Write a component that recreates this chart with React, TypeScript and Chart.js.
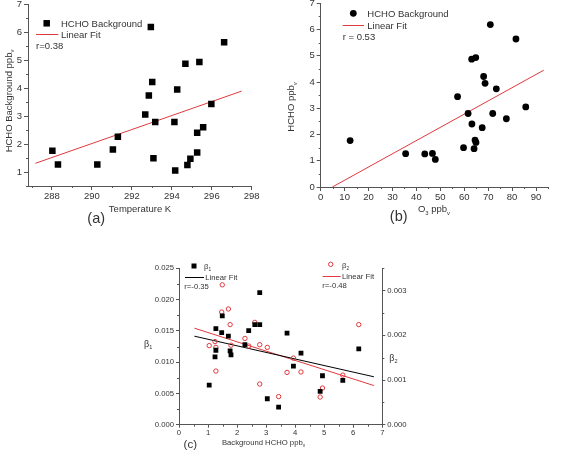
import { useEffect, useRef } from "react";
import { Chart, registerables } from "chart.js";

Chart.register(...registerables);

// (a) background HCHO against air temperature
const temperatureK = [288.02, 288.3, 290.27, 291.05, 291.3, 292.67, 292.85, 292.95, 293.02, 293.08, 293.17, 294.13, 294.17, 294.27, 294.68, 294.78, 294.93, 295.27, 295.27, 295.38, 295.57, 295.98, 296.62];
const hchoVsTemp = [1.76, 1.27, 1.27, 1.8, 2.26, 3.05, 3.73, 6.18, 4.21, 1.49, 2.79, 2.79, 1.05, 3.95, 4.87, 1.25, 1.47, 2.4, 1.7, 4.93, 2.6, 3.43, 5.63];
const tempFitX = [287.17, 297.5];
const tempFitY = [1.31, 3.89];
const tempTicks = [288, 290, 292, 294, 296, 298];
const hchoTicksA = [1, 2, 3, 4, 5, 6, 7];

// (b) background HCHO against ozone
const ozonePpb = [12.3, 35.5, 43.5, 46.7, 47.9, 57.2, 59.7, 61.6, 63.1, 63.2, 64.1, 64.5, 64.8, 64.9, 67.5, 68.1, 68.7, 70.9, 71.9, 73.4, 77.6, 81.6, 85.7];
const hchoVsO3 = [1.77, 1.27, 1.26, 1.28, 1.05, 3.44, 1.5, 2.8, 4.87, 2.4, 1.46, 1.79, 4.93, 1.7, 2.26, 4.21, 3.95, 6.19, 2.8, 3.74, 2.6, 5.64, 3.05];
const ozoneFitX = [4.87, 93.2];
const ozoneFitY = [0, 4.45];
const ozoneTicks = [0, 10, 20, 30, 40, 50, 60, 70, 80, 90];
const hchoTicksB = [0, 1, 2, 3, 4, 5, 6, 7];

// (c) beta coefficients against background HCHO
const hchoC = [1.04, 1.24, 1.27, 1.27, 1.47, 1.49, 1.7, 1.76, 1.79, 2.27, 2.4, 2.61, 2.78, 2.78, 3.04, 3.43, 3.72, 3.94, 4.2, 4.86, 4.94, 5.64, 6.19];
const beta1 = [0.00633, 0.01085, 0.0119, 0.01537, 0.01473, 0.0174, 0.01415, 0.0118, 0.01117, 0.0128, 0.01505, 0.016, 0.016, 0.0211, 0.00415, 0.00282, 0.01463, 0.00936, 0.01144, 0.00532, 0.00782, 0.00707, 0.01213];
const beta2 = [0.00177, 0.00186, 0.00173, 0.0012, 0.00252, 0.00313, 0.00259, 0.00224, 0.00178, 0.00193, 0.00176, 0.00229, 0.00179, 0.00091, 0.00173, 0.00063, 0.00117, 0.00149, 0.00118, 0.00062, 0.00082, 0.00111, 0.00224];
const betaFitX = [0.53, 6.71];
const beta1FitY = [0.01415, 0.00766];
const beta2FitY = [0.00216, 0.000876];
const hchoTicksC = [0, 1, 2, 3, 4, 5, 6, 7];
const beta1Ticks = [0, 0.005, 0.01, 0.015, 0.02, 0.025];
const beta2Ticks = [0, 0.001, 0.002, 0.003];

const FONT = '"Liberation Sans", Arial, Helvetica, sans-serif';
const AXIS_COLOR = "#555";
const TEXT_COLOR = "#333";
const FIT_RED = "#e0393e";
const PAGE_W = 568;
const PAGE_H = 453;
const MARGIN = 20;
const CANVAS_W = PAGE_W + 2 * MARGIN;
const CANVAS_H = PAGE_H + 2 * MARGIN;
const Y_AXIS_W = 30;
const X_AXIS_H = 20;

type Rect = { left: number; top: number; right: number; bottom: number };
type Part = [string, boolean?];

const pts = (xs: number[], ys: number[]) => xs.map((x, i) => ({ x, y: ys[i] }));

function paddingFor(area: Rect, rightAxis: boolean) {
  return {
    left: area.left + MARGIN - Y_AXIS_W,
    top: area.top + MARGIN,
    right: CANVAS_W - (area.right + MARGIN) - (rightAxis ? Y_AXIS_W : 0),
    bottom: CANVAS_H - (area.bottom + MARGIN) - X_AXIS_H,
  };
}

function axis(position: string, min: number, max: number, ticks: number[], fontSize: number, tickLen: number, decimals: number) {
  const horizontal = position === "bottom";
  return {
    type: "linear",
    position,
    min,
    max,
    bounds: "data",
    afterBuildTicks: (s: any) => {
      s.ticks = ticks.map((value) => ({ value }));
    },
    afterFit: (s: any) => {
      if (horizontal) s.height = X_AXIS_H;
      else s.width = Y_AXIS_W;
    },
    grid: { display: true, drawOnChartArea: false, drawTicks: true, tickLength: tickLen, tickColor: AXIS_COLOR, tickWidth: 1 },
    border: { display: true, color: AXIS_COLOR, width: 1 },
    ticks: {
      autoSkip: false,
      maxRotation: 0,
      padding: horizontal ? 1 : 2,
      color: TEXT_COLOR,
      font: { family: FONT, size: fontSize },
      callback: (v: number) => Number(v).toFixed(decimals),
    },
  };
}

// short ticks halfway between the labelled ones
function minorTicks(len: number) {
  return {
    id: "minorTicks",
    afterDraw(chart: any) {
      const ctx: CanvasRenderingContext2D = chart.ctx;
      ctx.save();
      ctx.strokeStyle = AXIS_COLOR;
      ctx.lineWidth = 1;
      ctx.beginPath();
      Object.values(chart.scales).forEach((s: any) => {
        const vals = s.ticks.map((t: any) => t.value);
        if (vals.length < 2) return;
        const step = vals[1] - vals[0];
        const eps = step * 1e-6;
        for (let k = -1; k < vals.length + 1; k++) {
          const v = vals[0] + step * (k + 0.5);
          if (v < s.min - eps || v > s.max + eps) continue;
          const p = Math.round(s.getPixelForValue(v)) + 0.5;
          if (s.position === "bottom") {
            ctx.moveTo(p, s.top);
            ctx.lineTo(p, s.top + len);
          } else if (s.position === "left") {
            ctx.moveTo(s.right - len, p);
            ctx.lineTo(s.right, p);
          } else {
            ctx.moveTo(s.left, p);
            ctx.lineTo(s.left + len, p);
          }
        }
      });
      ctx.stroke();
      ctx.restore();
    },
  };
}

function drawRich(
  ctx: CanvasRenderingContext2D,
  parts: Part[],
  x: number,
  y: number,
  size: number,
  align: "left" | "center" = "left",
  rotate = false,
  color = TEXT_COLOR
) {
  ctx.save();
  ctx.fillStyle = color;
  ctx.textBaseline = "alphabetic";
  ctx.textAlign = "left";
  const subSize = size * 0.62;
  let total = 0;
  const widths = parts.map(([t, sub]) => {
    ctx.font = `${sub ? subSize : size}px ${FONT}`;
    const w = ctx.measureText(t).width;
    total += w;
    return w;
  });
  ctx.translate(x, y);
  if (rotate) ctx.rotate(-Math.PI / 2);
  let cx = align === "center" ? -total / 2 : 0;
  const base = size * 0.36;
  parts.forEach(([t, sub], i) => {
    ctx.font = `${sub ? subSize : size}px ${FONT}`;
    ctx.fillText(t, cx, sub ? base + size * 0.28 : base);
    cx += widths[i];
  });
  ctx.restore();
}

function square(ctx: CanvasRenderingContext2D, x: number, y: number, side: number) {
  ctx.fillStyle = "#000";
  ctx.fillRect(x - side / 2, y - side / 2, side, side);
}

function dot(ctx: CanvasRenderingContext2D, x: number, y: number, r: number, fill: boolean, color: string) {
  ctx.beginPath();
  ctx.arc(x, y, r, 0, Math.PI * 2);
  if (fill) {
    ctx.fillStyle = color;
    ctx.fill();
  } else {
    ctx.strokeStyle = color;
    ctx.lineWidth = 1;
    ctx.stroke();
  }
}

function hline(ctx: CanvasRenderingContext2D, x1: number, x2: number, y: number, color: string) {
  ctx.beginPath();
  ctx.strokeStyle = color;
  ctx.lineWidth = 1;
  ctx.moveTo(x1, Math.round(y) + 0.5);
  ctx.lineTo(x2, Math.round(y) + 0.5);
  ctx.stroke();
}

function overlay(draw: (ctx: CanvasRenderingContext2D) => void) {
  return {
    id: "overlay",
    afterDraw(chart: any) {
      const ctx: CanvasRenderingContext2D = chart.ctx;
      ctx.save();
      ctx.translate(MARGIN, MARGIN);
      draw(ctx);
      ctx.restore();
    },
  };
}

const basePlugins = { legend: { display: false }, tooltip: { enabled: false } };

function configA(): any {
  return {
    type: "scatter",
    data: {
      datasets: [
        { data: pts(temperatureK, hchoVsTemp), pointStyle: "rect", pointRadius: 4.6, backgroundColor: "#000", borderWidth: 0 },
        { data: pts(tempFitX, tempFitY), showLine: true, pointRadius: 0, borderColor: FIT_RED, borderWidth: 1 },
      ],
    },
    options: {
      animation: false,
      responsive: false,
      events: [],
      layout: { padding: paddingFor({ left: 28, top: 4, right: 251.7, bottom: 186 }, false) },
      scales: {
        x: axis("bottom", 286.8, 298, tempTicks, 9.5, 4, 0),
        y: axis("left", 0.5, 7, hchoTicksA, 9.5, 4, 0),
      },
      plugins: basePlugins,
    },
    plugins: [
      minorTicks(2),
      overlay((ctx) => {
        square(ctx, 46.7, 23.3, 6.5);
        drawRich(ctx, [["HCHO Background"]], 61, 23.3, 9.5);
        hline(ctx, 36, 58.3, 34.3, FIT_RED);
        drawRich(ctx, [["Linear Fit"]], 61, 34.5, 9.5);
        drawRich(ctx, [["r=0.38"]], 36, 46, 9.5);
        drawRich(ctx, [["Temperature K"]], 140, 208.5, 9.5, "center");
        drawRich(ctx, [["HCHO Background ppb"], ["v", true]], 8.3, 101, 9.5, "center", true);
        drawRich(ctx, [["(a)"]], 96.2, 218.2, 14.5, "center");
      }),
    ],
  };
}

function configB(): any {
  return {
    type: "scatter",
    data: {
      datasets: [
        { data: pts(ozonePpb, hchoVsO3), pointStyle: "circle", pointRadius: 3.4, backgroundColor: "#000", borderWidth: 0 },
        { data: pts(ozoneFitX, ozoneFitY), showLine: true, pointRadius: 0, borderColor: FIT_RED, borderWidth: 1 },
      ],
    },
    options: {
      animation: false,
      responsive: false,
      events: [],
      layout: { padding: paddingFor({ left: 320.7, top: 3.3, right: 548, bottom: 187 }, false) },
      scales: {
        x: axis("bottom", 0, 95, ozoneTicks, 9.5, 4, 0),
        y: axis("left", 0, 7, hchoTicksB, 9.5, 4, 0),
      },
      plugins: basePlugins,
    },
    plugins: [
      minorTicks(2),
      overlay((ctx) => {
        dot(ctx, 353.3, 13.3, 3.4, true, "#000");
        drawRich(ctx, [["HCHO Background"]], 367.3, 13.3, 9.5);
        hline(ctx, 342.7, 364, 25, FIT_RED);
        drawRich(ctx, [["Linear Fit"]], 367.3, 25.3, 9.5);
        drawRich(ctx, [["r = 0.53"]], 342.7, 36.7, 9.5);
        drawRich(ctx, [["O"], ["3", true], [" ppb"], ["v", true]], 434, 209, 9.5, "center");
        drawRich(ctx, [["HCHO ppb"], ["v", true]], 291, 107, 9.5, "center", true);
        drawRich(ctx, [["(b)"]], 398.7, 215.9, 14.5, "center");
      }),
    ],
  };
}

function configC(): any {
  return {
    type: "scatter",
    data: {
      datasets: [
        { data: pts(hchoC, beta1), yAxisID: "y", pointStyle: "rect", pointRadius: 3.4, backgroundColor: "#000", borderWidth: 0 },
        { data: pts(hchoC, beta2), yAxisID: "y2", pointStyle: "circle", pointRadius: 2.2, backgroundColor: "rgba(0,0,0,0)", borderColor: FIT_RED, borderWidth: 1 },
        { data: pts(betaFitX, beta1FitY), yAxisID: "y", showLine: true, pointRadius: 0, borderColor: "#000", borderWidth: 1 },
        { data: pts(betaFitX, beta2FitY), yAxisID: "y2", showLine: true, pointRadius: 0, borderColor: FIT_RED, borderWidth: 1 },
      ],
    },
    options: {
      animation: false,
      responsive: false,
      events: [],
      layout: { padding: paddingFor({ left: 179, top: 268.3, right: 382.3, bottom: 424.7 }, true) },
      scales: {
        x: axis("bottom", 0, 7, hchoTicksC, 7.7, 3, 0),
        y: axis("left", 0, 0.025, beta1Ticks, 7.7, 3, 3),
        y2: axis("right", 0, 0.0035, beta2Ticks, 7.7, 3, 3),
      },
      plugins: basePlugins,
    },
    plugins: [
      minorTicks(2),
      overlay((ctx) => {
        square(ctx, 194, 266, 5);
        drawRich(ctx, [["β"], ["1", true]], 204, 266, 7.7);
        hline(ctx, 185, 204, 276.7, "#000");
        drawRich(ctx, [["Linear Fit"]], 205.3, 277, 7.7);
        drawRich(ctx, [["r=-0.35"]], 184.3, 286.7, 7.7);
        dot(ctx, 330.7, 264.3, 2.2, false, FIT_RED);
        drawRich(ctx, [["β"], ["2", true]], 342, 265, 7.7);
        hline(ctx, 322.7, 340.7, 275.7, FIT_RED);
        drawRich(ctx, [["Linear Fit"]], 342, 276, 7.7);
        drawRich(ctx, [["r=-0.48"]], 322.3, 285, 7.7);
        drawRich(ctx, [["Background HCHO ppb"], ["v", true]], 263.5, 441.8, 7.7, "center");
        drawRich(ctx, [["β"], ["1", true]], 144, 343.3, 9);
        drawRich(ctx, [["β"], ["2", true]], 389.3, 357.7, 9);
        drawRich(ctx, [["(c)"]], 190.3, 443.5, 11.5, "center");
      }),
    ],
  };
}

export default function App() {
  const aRef = useRef<HTMLCanvasElement>(null);
  const bRef = useRef<HTMLCanvasElement>(null);
  const cRef = useRef<HTMLCanvasElement>(null);

  useEffect(() => {
    const charts = [
      new Chart(aRef.current!, configA()),
      new Chart(bRef.current!, configB()),
      new Chart(cRef.current!, configC()),
    ];
    return () => charts.forEach((c) => c.destroy());
  }, []);

  const canvasStyle: any = {
    position: "absolute",
    left: -MARGIN,
    top: -MARGIN,
    width: CANVAS_W,
    height: CANVAS_H,
  };

  return (
    <div
      style={{
        position: "fixed",
        left: 0,
        top: 0,
        width: PAGE_W,
        height: PAGE_H,
        overflow: "hidden",
        background: "#fff",
      }}
    >
      <canvas ref={aRef} width={CANVAS_W} height={CANVAS_H} style={canvasStyle} />
      <canvas ref={bRef} width={CANVAS_W} height={CANVAS_H} style={canvasStyle} />
      <canvas ref={cRef} width={CANVAS_W} height={CANVAS_H} style={canvasStyle} />
    </div>
  );
}
